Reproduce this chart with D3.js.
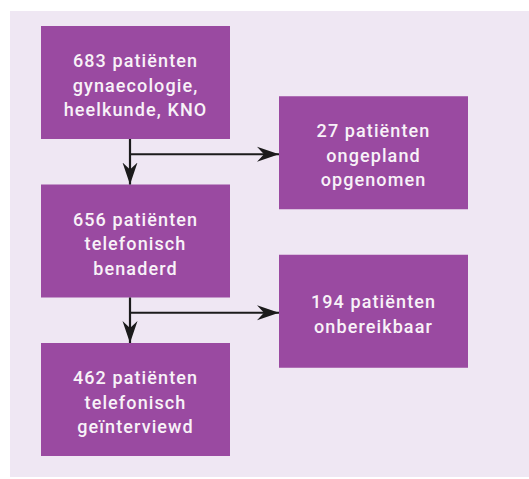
<!DOCTYPE html>
<html>
<head>
<meta charset="utf-8">
<script src="https://cdn.jsdelivr.net/npm/d3@7"></script>
<style>
html,body{margin:0;padding:0;background:#ffffff;}
svg{display:block;}
</style>
</head>
<body>
<svg id="chart" width="529" height="479"></svg>
<script>
// ---- data ----
const counts = [683, 27, 656, 194, 462];
const labels = [
  ["gynaecologie,", "heelkunde, KNO"],
  ["ongepland", "opgenomen"],
  ["telefonisch", "benaderd"],
  ["onbereikbaar"],
  ["telefonisch", "geïnterviewd"]
];
const unit = "patiënten";
const columns = [0, 1, 0, 1, 0];   // main flow / excluded
const rows = [0, 0.5, 1, 1.5, 2];  // step in flow
const links = [[0, 2, 1], [2, 4, 3]]; // from, to, side

// ---- layout ----
const svg = d3.select("#chart");
const W = 529, H = 479;
const purple = "#9a4aa1", bg = "#efe7f3", ink = "#1b1b1b";
const boxW = 189, boxH = 113;

svg.append("rect").attr("x", 10).attr("y", 11).attr("width", W - 10).attr("height", H - 13).attr("fill", bg);

const x = d3.scaleLinear().domain([0, 1]).range([41, 279]);
const y = d3.scaleLinear().domain([0, 2]).range([26, 343]);

const defs = svg.append("defs");
defs.append("marker").attr("id", "arr").attr("viewBox", "0 0 22 16")
  .attr("refX", 22).attr("refY", 8).attr("markerWidth", 22).attr("markerHeight", 16)
  .attr("markerUnits", "userSpaceOnUse").attr("orient", "auto")
  .append("path").attr("d", "M0,0.5 L22,8 L0,15.5 L7,8 Z").attr("fill", ink);

const nodes = counts.map((c, i) => ({
  i, lines: [c + " " + unit].concat(labels[i]),
  x: x(columns[i]), y: y(rows[i])
}));
// side boxes slightly offset so arrows hit near middle
nodes.forEach(n => { if (columns[n.i] === 1) n.y = y(rows[n.i]) - 9; });

const g = svg.append("g");
g.selectAll("rect.box").data(nodes).join("rect").attr("class", "box")
  .attr("x", d => d.x).attr("y", d => d.y).attr("width", boxW).attr("height", boxH)
  .attr("fill", purple);

const txt = g.selectAll("text.lbl").data(nodes).join("text").attr("class", "lbl")
  .attr("text-anchor", "middle").attr("fill", "#f8f2f8")
  .attr("font-family", "Roboto, 'DejaVu Sans', sans-serif").attr("font-weight", 500)
  .attr("font-size", 18).attr("letter-spacing", 1.1);
txt.each(function(d) {
  const n = d.lines.length, lh = 24.5;
  const cy = d.y + boxH / 2 + 3;
  d3.select(this).selectAll("tspan").data(d.lines).join("tspan")
    .attr("x", d.x + boxW / 2)
    .attr("y", (t, k) => cy + (k - (n - 1) / 2) * lh + 6)
    .text(t => t);
});

// arrows
const cx = x(0) + boxW / 2 - 5.5;
links.forEach(([a, b, s]) => {
  const y0 = nodes[a].y + boxH, y1 = nodes[b].y;
  const ys = nodes[s].y + boxH / 2 + 1.5;
  g.append("line").attr("x1", cx).attr("y1", y0).attr("x2", cx).attr("y2", y1)
    .attr("stroke", ink).attr("stroke-width", 2.2).attr("marker-end", "url(#arr)");
  g.append("line").attr("x1", cx).attr("y1", ys).attr("x2", nodes[s].x).attr("y2", ys)
    .attr("stroke", ink).attr("stroke-width", 2.2).attr("marker-end", "url(#arr)");
});
</script>
</body>
</html>
